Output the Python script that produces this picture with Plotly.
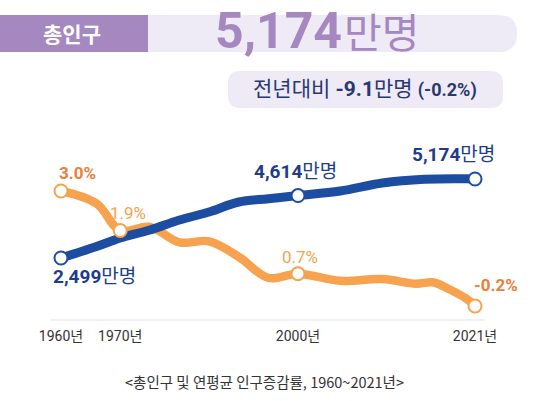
import plotly.graph_objects as go

# ---------------- data ----------------
pop_years = [1960, 1966, 1970, 1975, 1980, 1985, 1990, 1995, 2000, 2005, 2010, 2015, 2020, 2021]
pop_values = [2499, 2890, 3176, 3447, 3786, 4057, 4395, 4505, 4614, 4768, 5038, 5165, 5183, 5174]  # 만명

rate_years = [1960, 1966, 1970, 1975, 1980, 1985, 1990, 1995, 2000, 2005, 2010, 2014, 2016, 2018, 2020, 2021]
rate_values = [3.0, 2.65, 1.9, 2.0, 1.57, 1.6, 1.17, 0.58, 0.7, 0.5, 0.55, 0.42, 0.46, 0.26, 0.0, -0.2]  # %

pop_marker_years = [1960, 2000, 2021]
rate_marker_years = [1960, 1970, 2000, 2021]
tick_years = [1960, 1970, 2000, 2021]

headline_total = "5,174"
headline_unit = "만명"
change_abs = "-9.1"
change_pct = "-0.2%"
title_label = "총인구"
caption = "<총인구 및 연평균 인구증감률, 1960~2021년>"

# ---------------- styling ----------------
W, H = 535, 401
MB = 81  # bottom margin: plot area spans pixel rows 0..320
PH = H - MB

BLUE = "#1C4DA1"
NAVY = "#1E3C8C"
ORANGE = "#F6A24E"
ORANGE_DK = "#EA7F3B"
PURPLE = "#A688C0"
LAV = "#EEEBF6"
TXT = "#2B3770"
NUMF = "Roboto, 'Noto Sans CJK KR', sans-serif"
KRF = "'Noto Sans CJK KR', sans-serif"


def disp_x(year):
    # the infographic stretches the 2000-2021 span (piecewise axis)
    return year if year <= 2000 else 2000 + (year - 2000) * 1.4227


def px(x):
    return x / W


def py(y):
    return 1 - y / PH


fig = go.Figure()

# orange line (main y axis)
fig.add_trace(go.Scatter(
    x=[disp_x(y) for y in rate_years], y=rate_values, mode="lines",
    line=dict(color=ORANGE, width=8.5, shape="spline", smoothing=1.0),
    yaxis="y", hoverinfo="skip", showlegend=False))

# blue line (overlay axis y2)
fig.add_trace(go.Scatter(
    x=[disp_x(y) for y in pop_years], y=pop_values, mode="lines",
    line=dict(color=BLUE, width=9, shape="spline", smoothing=1.0),
    yaxis="y2", hoverinfo="skip", showlegend=False))
fig.add_trace(go.Scatter(
    x=[disp_x(y) for y in pop_marker_years],
    y=[pop_values[pop_years.index(y)] for y in pop_marker_years],
    mode="markers",
    marker=dict(size=13, color="white", line=dict(color=BLUE, width=2)),
    yaxis="y2", hoverinfo="skip", showlegend=False))

# orange markers on top (overlay axis y3 with the same range as y)
fig.add_trace(go.Scatter(
    x=[disp_x(y) for y in rate_marker_years],
    y=[rate_values[rate_years.index(y)] for y in rate_marker_years],
    mode="markers",
    marker=dict(size=13, color="white", line=dict(color=ORANGE, width=2)),
    yaxis="y3", hoverinfo="skip", showlegend=False))

shapes = []


def rrect(x0, y0, x1, y1, r, color):
    X0, X1 = px(x0), px(x1)
    Y0, Y1 = py(y0), py(y1)
    rx, ry = r / W, r / PH
    path = (f"M {X0+rx},{Y0} L {X1-rx},{Y0} Q {X1},{Y0} {X1},{Y0-ry} "
            f"L {X1},{Y1+ry} Q {X1},{Y1} {X1-rx},{Y1} L {X0+rx},{Y1} "
            f"Q {X0},{Y1} {X0},{Y1+ry} L {X0},{Y0-ry} Q {X0},{Y0} {X0+rx},{Y0} Z")
    return dict(type="path", xref="paper", yref="paper", path=path,
                fillcolor=color, line=dict(width=0), layer="below")


# headline bar
shapes.append(rrect(-20, 15, 517, 52, 18, LAV))
shapes.append(dict(type="rect", xref="paper", yref="paper",
                   x0=px(0), x1=px(148), y0=py(52), y1=py(15),
                   fillcolor=PURPLE, line=dict(width=0), layer="below"))
# change box
shapes.append(rrect(228, 71, 503, 108, 12, LAV))
# baseline
shapes.append(dict(type="line", xref="paper", yref="paper",
                   x0=px(50), x1=px(485), y0=py(320), y1=py(320),
                   line=dict(color="#ECECEC", width=1.5), layer="below"))

ann = []


def label(x, y, text, size, color, family=NUMF, xanchor="center"):
    ann.append(dict(xref="paper", yref="paper", x=px(x), y=py(y), text=text,
                    showarrow=False, xanchor=xanchor, yanchor="middle",
                    font=dict(size=size, color=color, family=family)))


label(72, 33, f"<b>{title_label}</b>", 21, "white", KRF)
label(344, 31, f"<b>{headline_total}</b>", 50, PURPLE, NUMF, xanchor="right")
label(342, 30, headline_unit, 41, PURPLE, KRF, xanchor="left")
label(365, 89, f"전년대비 <b>{change_abs}</b>만명 <b><span style='font-size:18px'>({change_pct})</span></b>",
      21, TXT, NUMF)

# data labels (text from data)
def fmt_rate(v):
    return f"{v:.1f}%"


r = dict(zip(rate_years, rate_values))
p = dict(zip(pop_years, pop_values))
label(77, 173, f"<b>{fmt_rate(r[1960])}</b>", 17, ORANGE_DK)
label(128, 213, fmt_rate(r[1970]), 17, ORANGE)
label(300, 257, fmt_rate(r[2000]), 17, ORANGE)
label(496, 285, f"<b>{fmt_rate(r[2021])}</b>", 17, ORANGE_DK)
label(94, 276, f"<b>{p[1960]:,}</b>만명", 19, NAVY)
label(295, 171, f"<b>{p[2000]:,}</b>만명", 19, NAVY)
label(453, 154, f"<b>{p[2021]:,}</b>만명", 19, NAVY)

label(264, 381, caption.replace("<", "&lt;").replace(">", "&gt;"), 14.5, "#333333", KRF)

fig.update_layout(
    width=W, height=H,
    margin=dict(l=0, r=0, t=0, b=MB, pad=0),
    paper_bgcolor="white", plot_bgcolor="white",
    showlegend=False, hovermode=False,
    xaxis=dict(range=[1949.705, 2040.0], showgrid=False, zeroline=False, showline=False,
               tickvals=[disp_x(y) for y in tick_years],
               ticktext=[f"{y}년" for y in tick_years],
               ticks="", ticklabelstandoff=6,
               tickfont=dict(size=14, color="#333333", family=NUMF), fixedrange=True),
    yaxis=dict(range=[-0.5896, 8.3148], visible=False, fixedrange=True),
    yaxis2=dict(range=[399.6, 11235.1], overlaying="y", visible=False, fixedrange=True),
    yaxis3=dict(range=[-0.5896, 8.3148], overlaying="y", visible=False, fixedrange=True),
    shapes=shapes, annotations=ann,
)

fig.write_html("out.html", config={"displayModeBar": False, "staticPlot": True})
